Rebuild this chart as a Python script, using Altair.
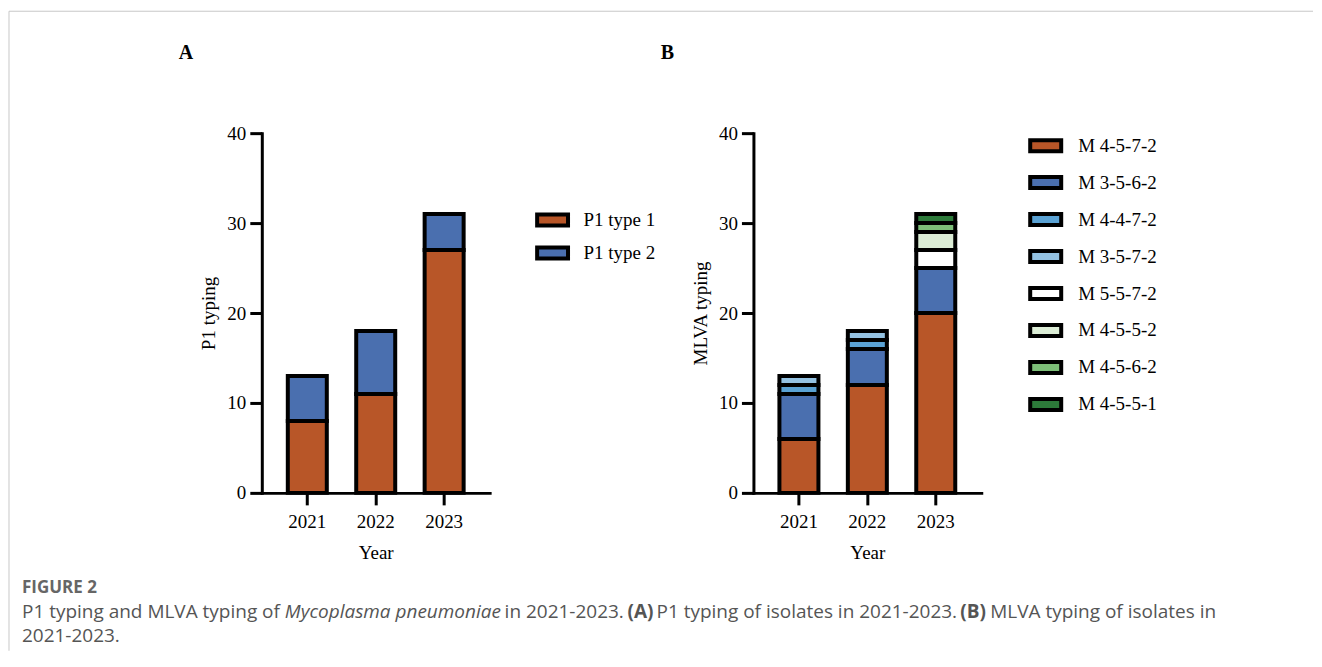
import altair as alt
import pandas as pd

# ---------------- data ----------------
years = ["2021", "2022", "2023"]

p1_types = ["P1 type 1", "P1 type 2"]
p1_colors = ["#B85628", "#4A6FAF"]
p1_type1 = [8, 11, 27]
p1_type2 = [5, 7, 4]

mlva_types = ["M 4-5-7-2", "M 3-5-6-2", "M 4-4-7-2", "M 3-5-7-2",
              "M 5-5-7-2", "M 4-5-5-2", "M 4-5-6-2", "M 4-5-5-1"]
mlva_colors = ["#B85628", "#4A6FAF", "#5AA2D4", "#94C2E2",
               "#FFFFFF", "#DCEDD6", "#7DBE78", "#2D7A3A"]
mlva_2021 = [6, 5, 1, 1, 0, 0, 0, 0]
mlva_2022 = [12, 4, 1, 1, 0, 0, 0, 0]
mlva_2023 = [20, 5, 0, 0, 2, 2, 1, 1]

y_ticks = [0, 10, 20, 30, 40]

# ---------------- tables ----------------
rows_a = []
for series, vals in zip(p1_types, [p1_type1, p1_type2]):
    for yr, v in zip(years, vals):
        rows_a.append({"year": yr, "type": series, "count": v,
                       "idx": p1_types.index(series)})
df_a = pd.DataFrame(rows_a)

rows_b = []
for yr, vals in zip(years, [mlva_2021, mlva_2022, mlva_2023]):
    for i, (t, v) in enumerate(zip(mlva_types, vals)):
        rows_b.append({"year": yr, "type": t, "count": v, "idx": i})
df_b = pd.DataFrame(rows_b)

SERIF = "Liberation Serif"
SANS = "Open Sans"
one = pd.DataFrame({"k": [0]})


def axis_y(title):
    return alt.Axis(title=title, values=y_ticks, grid=False,
                    domainColor="black", domainWidth=3, domainCap="square",
                    tickColor="black", tickWidth=3, tickSize=12,
                    labelFont=SERIF, labelFontSize=19, labelColor="black",
                    labelPadding=4, titleFont=SERIF, titleFontSize=19,
                    titleFontWeight="normal", titleColor="black",
                    titlePadding=8)


def axis_x():
    return alt.Axis(title="Year", labelAngle=0, grid=False,
                    domainColor="black", domainWidth=3, domainCap="square",
                    tickColor="black", tickWidth=3, tickSize=12,
                    labelFont=SERIF, labelFontSize=19, labelColor="black",
                    labelPadding=8, titleFont=SERIF, titleFontSize=19,
                    titleFontWeight="normal", titleColor="black",
                    titlePadding=12)


def bars(df, types, colors, ytitle, legend):
    return alt.Chart(df).transform_filter("datum.count > 0").mark_bar(
        stroke="black", strokeWidth=4, strokeJoin="miter"
    ).encode(
        x=alt.X("year:N", sort=years,
                scale=alt.Scale(paddingInner=0.43, paddingOuter=0.38),
                axis=axis_x()),
        y=alt.Y("count:Q", stack="zero",
                scale=alt.Scale(domain=[0, 40], nice=False),
                axis=axis_y(ytitle)),
        color=alt.Color("type:N", scale=alt.Scale(domain=types, range=colors),
                        legend=legend),
        order=alt.Order("idx:Q", sort="ascending"),
    )


def text(x, y, s, size=19, font=SANS, color="#555555", weight="normal",
         style="normal", align="left"):
    return alt.Chart(one).mark_text(
        font=font, fontSize=size, color=color, fontWeight=weight,
        fontStyle=style, align=align, baseline="middle"
    ).encode(x=alt.value(x), y=alt.value(y), text=alt.value(s))


legend_a = alt.Legend(
    title=None, orient="none", legendX=274, legendY=70, padding=0,
    symbolType="M-1.03,-0.367H1.03V0.367H-1.03Z", symbolSize=900,
    symbolStrokeColor="black", symbolStrokeWidth=4, symbolOpacity=1,
    labelFont=SERIF, labelFontSize=19, labelColor="black",
    labelOffset=14, rowPadding=2, labelLimit=300)

legend_b = alt.Legend(
    title=None, orient="none", legendX=274, legendY=-6, padding=0,
    symbolType="M-0.94,-0.333H0.94V0.333H-0.94Z", symbolSize=1089,
    symbolStrokeColor="black", symbolStrokeWidth=4, symbolOpacity=1,
    labelFont=SERIF, labelFontSize=19, labelColor="black",
    labelOffset=14, rowPadding=5, labelLimit=300)

# panel A (plot origin at page x=262, y=133)
frame_top = alt.Chart(one).mark_rule(color="#c8c8c8", strokeWidth=1).encode(
    x=alt.value(-253), x2=alt.value(1052), y=alt.value(-122))
frame_left = alt.Chart(one).mark_rule(color="#c8c8c8", strokeWidth=1).encode(
    x=alt.value(-253), y=alt.value(-122), y2=alt.value(518))

caption = [
    text(-240, 455, "FIGURE 2", size=17, weight="bold", color="#666666"),
    text(-240, 479, "P1 typing and MLVA typing of"),
    text(23, 479, "Mycoplasma pneumoniae", style="italic"),
    text(243, 479, "in 2021-2023."),
    text(366, 479, "(A)", weight="bold"),
    text(395, 479, "P1 typing of isolates in 2021-2023."),
    text(699, 479, "(B)", weight="bold"),
    text(729, 479, "MLVA typing of isolates in"),
    text(-240, 503, "2021-2023."),
]

panel_a = alt.layer(
    frame_top, frame_left,
    bars(df_a, p1_types, p1_colors, "P1 typing", legend_a),
    text(-76, -80, "A", size=20, font=SERIF, color="black", weight="bold",
         align="center"),
    *caption,
).properties(width=228, height=360)

panel_b = alt.layer(
    bars(df_b, mlva_types, mlva_colors, "MLVA typing", legend_b),
    text(-86, -80, "B", size=20, font=SERIF, color="black", weight="bold",
         align="center"),
).properties(width=228, height=360)

chart = alt.hconcat(panel_a, panel_b, spacing=264, bounds="flush").resolve_scale(
    color="independent", x="independent", y="independent"
).resolve_legend(color="independent").properties(
    padding={"left": 0, "top": 2, "right": 0, "bottom": 0}
).configure_view(stroke=None)

chart.save("out.html", embed_options={"renderer": "svg", "actions": False})
